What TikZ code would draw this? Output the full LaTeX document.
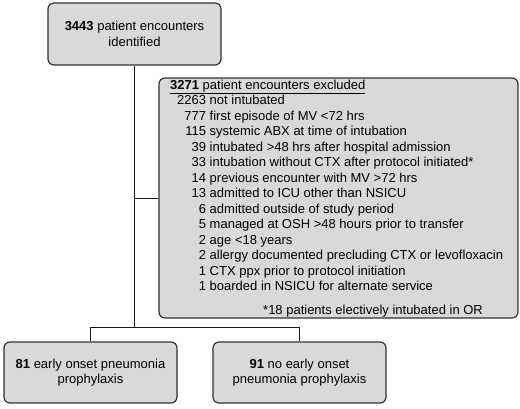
\documentclass[tikz,border=0pt]{standalone}
\usepackage{fontspec}
\setmainfont{Liberation Sans}
\definecolor{boxgray}{HTML}{D9D9D9}
\definecolor{edgegray}{HTML}{333333}
\begin{document}
\begin{tikzpicture}[x=1pt,y=-1pt,
  box/.style={draw=edgegray, line width=1.2pt, fill=boxgray, rounded corners=6pt,
    align=center, inner sep=0pt, font=\fontsize{13}{15.5}\selectfont},
  conn/.style={draw=black!90, line width=1pt},
  txt/.style={inner sep=0pt, font=\fontsize{13}{15.5}\selectfont}]
\useasboundingbox (0,0) rectangle (520,408);
\fill[white] (0,0) rectangle (520,408);

\node[box, minimum width=173pt, minimum height=62pt] (top) at (134.5,34)
  {\textbf{3443} patient encounters\\identified};

\node[box, minimum width=359pt, minimum height=240pt] (excl) at (338.5,198) {};
\node[txt, anchor=base west] (hdr) at (170,89.5)
  {\underline{\textbf{3271} patient encounters excluded}};
\node[txt, anchor=base west] (list) at (177,104.5)
  {\begin{tabular}[t]{@{}r@{ }l@{}}
  2263 & not intubated\\
  777 & first episode of MV <72 hrs\\
  115 & systemic ABX at time of intubation\\
  39 & intubated >48 hrs after hospital admission\\
  33 & intubation without CTX after protocol initiated*\\
  14 & previous encounter with MV >72 hrs\\
  13 & admitted to ICU other than NSICU\\
  6 & admitted outside of study period\\
  5 & managed at OSH >48 hours prior to transfer\\
  2 & age <18 years\\
  2 & allergy documented precluding CTX or levofloxacin\\
  1 & CTX ppx prior to protocol initiation\\
  1 & boarded in NSICU for alternate service
  \end{tabular}};
\node[txt, anchor=base west] (foot) at (263,314.5)
  {*18 patients electively intubated in OR};

\node[box, minimum width=173pt, minimum height=61pt] (yes) at (90.5,372.5)
  {\textbf{81} early onset pneumonia\\prophylaxis};
\node[box, minimum width=173pt, minimum height=61pt] (no) at (299.5,372.5)
  {\textbf{91} no early onset\\pneumonia prophylaxis};

\coordinate (k) at (134.5,327);
\draw[conn] (top.south) -- (k);
\draw[conn] (top.south |- excl.west) -- (excl.west);
\draw[conn] (yes.north) -- (yes.north |- k) -- (no.north |- k) -- (no.north);
\end{tikzpicture}
\end{document}
